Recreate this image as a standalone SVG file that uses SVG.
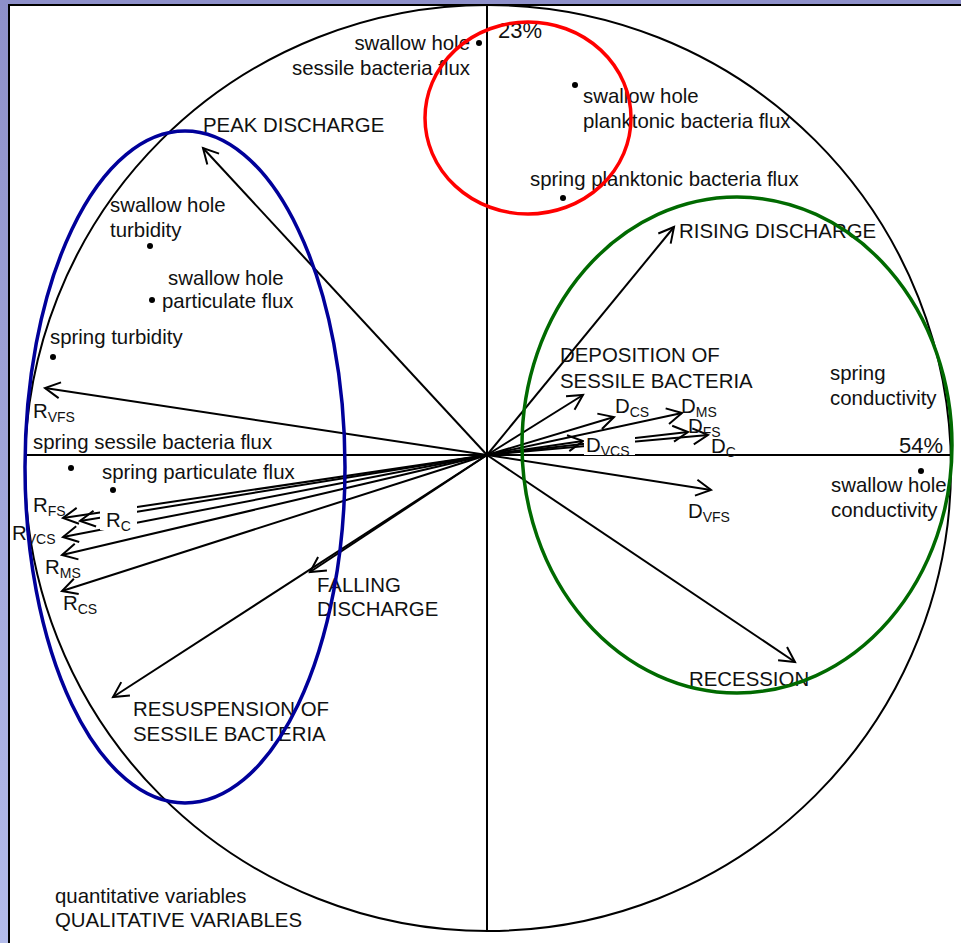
<svg xmlns="http://www.w3.org/2000/svg" width="961" height="943" viewBox="0 0 961 943">
<defs>
<linearGradient id="bg" x1="0" y1="0" x2="0" y2="1">
<stop offset="0" stop-color="#8E90CA"/>
<stop offset="1" stop-color="#B3BBEA"/>
</linearGradient>
<marker id="ah" markerUnits="userSpaceOnUse" markerWidth="20" markerHeight="20" viewBox="-17 -10 20 20" refX="0" refY="0" orient="auto">
<path d="M-15,-8 L0,0 L-15,8" fill="none" stroke="#000" stroke-width="2"/>
</marker>
</defs>
<style>
text{font-family:"Liberation Sans",Arial,sans-serif;font-size:20.4px;fill:#111}
.sub{font-size:14px}
.pct{font-size:22px}
.ax{stroke:#000;stroke-width:2;fill:none}
.arr{stroke:#000;stroke-width:2;fill:none;marker-end:url(#ah)}
.dot{fill:#000}
.ell{fill:none;stroke-width:3.5}
</style>
<rect x="0" y="0" width="961" height="943" fill="url(#bg)"/>
<rect x="9" y="5" width="960" height="950" fill="#fff" stroke="#000" stroke-width="2"/>
<g id="axes">
<line class="ax" x1="25" y1="455" x2="951" y2="455"/>
<line class="ax" x1="487" y1="5" x2="487" y2="930"/>
<circle class="ax" cx="488" cy="468" r="463"/>
<text class="pct" x="498" y="38">23%</text>
<text class="pct" x="899" y="453">54%</text>
</g>
<g id="connectors">
<line class="arr" x1="487" y1="455" x2="203" y2="148"/>
<line class="arr" x1="487" y1="455" x2="674" y2="227"/>
<line class="arr" x1="487" y1="455" x2="795" y2="662"/>
<line class="arr" x1="487" y1="455" x2="310" y2="572"/>
<line class="arr" x1="487" y1="455" x2="113" y2="697"/>
<line class="arr" x1="487" y1="455" x2="583" y2="395"/>
<line class="arr" x1="487" y1="455" x2="614" y2="417"/>
<line class="arr" x1="487" y1="455" x2="682" y2="413"/>
<line class="arr" x1="487" y1="455" x2="688" y2="432"/>
<line class="arr" x1="487" y1="455" x2="708" y2="435"/>
<line class="arr" x1="487" y1="455" x2="583" y2="441"/>
<line class="arr" x1="487" y1="455" x2="711" y2="490"/>
<line class="arr" x1="487" y1="455" x2="45" y2="388"/>
<line class="arr" x1="487" y1="455" x2="63" y2="518"/>
<line class="arr" x1="487" y1="455" x2="80" y2="521"/>
<line class="arr" x1="487" y1="455" x2="63" y2="537"/>
<line class="arr" x1="487" y1="455" x2="62" y2="555"/>
<line class="arr" x1="487" y1="455" x2="62" y2="591"/>
</g>
<g id="peak-discharge"><text x="203" y="132">PEAK DISCHARGE</text></g>
<g id="rising-discharge"><text x="679" y="238">RISING DISCHARGE</text></g>
<g id="recession"><text x="689" y="686">RECESSION</text></g>
<g id="falling-discharge"><text x="317" y="592">FALLING</text><text x="317" y="616">DISCHARGE</text></g>
<g id="resuspension"><text x="133" y="716">RESUSPENSION OF</text><text x="133" y="741">SESSILE BACTERIA</text></g>
<g id="deposition"><text x="560" y="362">DEPOSITION OF</text><text x="560" y="388">SESSILE BACTERIA</text></g>
<g id="D_CS"><text x="615" y="413">D<tspan class="sub" dy="4">CS</tspan></text></g>
<g id="D_MS"><text x="681" y="413">D<tspan class="sub" dy="4">MS</tspan></text></g>
<g id="D_FS"><text x="688" y="433">D<tspan class="sub" dy="4">FS</tspan></text></g>
<g id="D_C"><text x="711" y="453">D<tspan class="sub" dy="4">C</tspan></text></g>
<g id="D_VCS"><rect x="584" y="435" width="51" height="20" fill="#fff"/><text x="586" y="452">D<tspan class="sub" dy="4">VCS</tspan></text></g>
<g id="D_VFS"><text x="688" y="518">D<tspan class="sub" dy="4">VFS</tspan></text></g>
<g id="R_VFS"><text x="33" y="418">R<tspan class="sub" dy="4">VFS</tspan></text></g>
<g id="R_FS"><text x="33" y="512">R<tspan class="sub" dy="4">FS</tspan></text></g>
<g id="R_C"><rect x="100" y="505" width="37" height="25" fill="#fff"/><text x="106" y="527">R<tspan class="sub" dy="4">C</tspan></text></g>
<g id="R_VCS"><text x="12" y="540">R<tspan class="sub" dy="4">VCS</tspan></text></g>
<g id="R_MS"><text x="45" y="574">R<tspan class="sub" dy="4">MS</tspan></text></g>
<g id="R_CS"><text x="63" y="610">R<tspan class="sub" dy="4">CS</tspan></text></g>
<g id="swallow-hole-sessile-bacteria-flux"><circle class="dot" cx="479" cy="43" r="3"/><text x="470" y="50" text-anchor="end">swallow hole</text><text x="470" y="75" text-anchor="end">sessile bacteria flux</text></g>
<g id="swallow-hole-planktonic-bacteria-flux"><circle class="dot" cx="575" cy="85" r="3"/><text x="583" y="103">swallow hole</text><text x="583" y="128">planktonic bacteria flux</text></g>
<g id="spring-planktonic-bacteria-flux"><circle class="dot" cx="563" cy="198" r="3"/><text x="530" y="186">spring planktonic bacteria flux</text></g>
<g id="swallow-hole-turbidity"><circle class="dot" cx="150" cy="246" r="3"/><text x="110" y="212">swallow hole</text><text x="110" y="237">turbidity</text></g>
<g id="swallow-hole-particulate-flux"><circle class="dot" cx="152" cy="300" r="3"/><text x="168" y="285">swallow hole</text><text x="162" y="308">particulate flux</text></g>
<g id="spring-turbidity"><circle class="dot" cx="53" cy="357" r="3"/><text x="50" y="344">spring turbidity</text></g>
<g id="spring-sessile-bacteria-flux"><circle class="dot" cx="71" cy="468" r="3"/><text x="33" y="449">spring sessile bacteria flux</text></g>
<g id="spring-particulate-flux"><circle class="dot" cx="113" cy="490" r="3"/><text x="102" y="479">spring particulate flux</text></g>
<g id="spring-conductivity"><text x="830" y="380">spring</text><text x="830" y="405">conductivity</text></g>
<g id="swallow-hole-conductivity"><circle class="dot" cx="921" cy="471" r="3"/><text x="831" y="492">swallow hole</text><text x="831" y="517">conductivity</text></g>
<g id="legend"><text x="55" y="903">quantitative variables</text><text x="55" y="927">QUALITATIVE VARIABLES</text></g>
<g id="groups">
<ellipse class="ell" cx="528" cy="118" rx="103" ry="96" stroke="#FF0000"/>
<ellipse class="ell" cx="185" cy="467" rx="160" ry="336" stroke="#00009A"/>
<ellipse class="ell" cx="737" cy="445" rx="215" ry="248" stroke="#006A00"/>
</g>
</svg>
